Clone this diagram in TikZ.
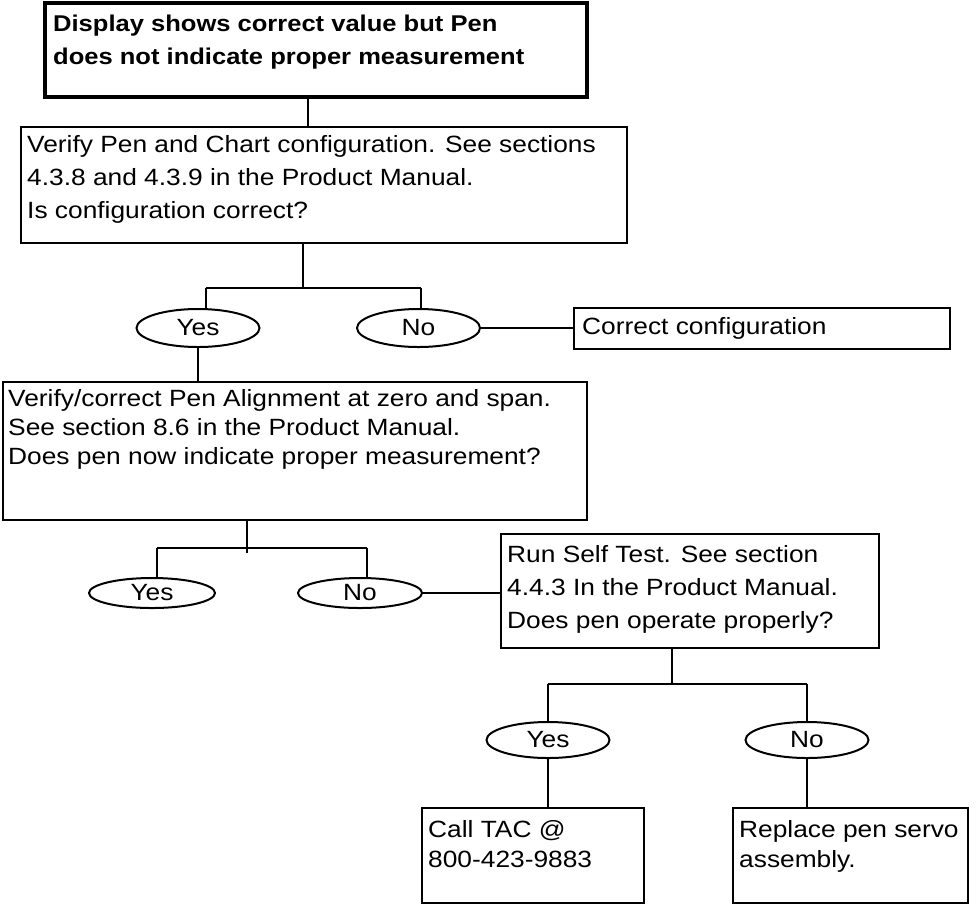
\documentclass[tikz,border=0pt]{standalone}
\usepackage{fontspec}
\setmainfont{Liberation Sans}[FakeStretch=1.12]
\usetikzlibrary{shapes.geometric}
\begin{document}
\begin{tikzpicture}[x=1pt,y=-1pt,
  box/.style={draw,line width=2.2pt,rectangle,inner sep=0pt},
  titlebox/.style={draw,line width=4.5pt,rectangle,inner sep=0pt},
  txt/.style={inner sep=0pt,anchor=north west,align=left,font=\fontsize{23.5}{33}\selectfont},
  choice/.style={draw,line width=2pt,ellipse,inner sep=0pt,font=\fontsize{23.5}{28}\selectfont},
  link/.style={line width=2pt}]
\useasboundingbox (0,0) rectangle (976,906);

% boxes
\node[titlebox,minimum width=542pt,minimum height=94pt] (b1) at (316,50) {};
\node[txt,font=\bfseries\fontsize{22.8}{33}\selectfont] (t1) at (53,15)
  {Display shows correct value but Pen\\does not indicate proper measurement};

\node[box,minimum width=606pt,minimum height=116pt] (b2) at (324,185) {};
\node[txt] (t2) at (27,135)
  {Verify Pen and Chart configuration. See sections\\4.3.8 and 4.3.9 in the Product Manual.\\Is configuration correct?};

\node[choice,minimum width=123pt,minimum height=38pt] (yes1) at (198,328) {Yes};
\node[choice,minimum width=123pt,minimum height=38pt] (no1) at (418.5,328) {No};

\node[box,minimum width=376pt,minimum height=41pt] (fix) at (762,328.5) {};
\node[txt] (tfix) at (582,317) {Correct configuration};

\node[box,minimum width=584pt,minimum height=138pt] (b3) at (295,451) {};
\node[txt,font=\fontsize{23.5}{29}\selectfont] (t3) at (8,389)
  {Verify/correct Pen Alignment at zero and span.\\See section 8.6 in the Product Manual.\\Does pen now indicate proper measurement?};

\node[choice,minimum width=126pt,minimum height=30pt] (yes2) at (152,593) {Yes};
\node[choice,minimum width=124pt,minimum height=30pt] (no2) at (360,593) {No};

\node[box,minimum width=378pt,minimum height=114pt] (run) at (690,591) {};
\node[txt] (trun) at (507,545)
  {Run Self Test. See section\\4.4.3 In the Product Manual.\\Does pen operate properly?};

\node[choice,minimum width=123pt,minimum height=36pt] (yes3) at (548,740) {Yes};
\node[choice,minimum width=123pt,minimum height=36pt] (no3) at (807,740) {No};

\node[box,minimum width=222pt,minimum height=95pt] (call) at (533,855.5) {};
\node[txt,font=\fontsize{23.5}{30}\selectfont] (tcall) at (428,820) {Call TAC @\\800-423-9883};

\node[box,minimum width=235pt,minimum height=95pt] (repl) at (850.5,855.5) {};
\node[txt,font=\fontsize{23.5}{30}\selectfont] (trep) at (739,820) {Replace pen servo\\assembly.};

% junction coordinates
\coordinate (c1) at (308,0);
\coordinate (j1) at (303,288);
\coordinate (bl1) at (206,288);
\coordinate (br1) at (421,288);
\coordinate (j2) at (247,548);
\coordinate (j2e) at (247,553);
\coordinate (bl2) at (157,548);
\coordinate (br2) at (367,548);
\coordinate (j3) at (672,684);
\coordinate (bl3) at (548,684);
\coordinate (br3) at (807,684);

% connectors
\draw[link] (b1.south -| c1) -- (b2.north -| c1);
\draw[link] (b2.south -| j1) -- (j1);
\draw[link] (bl1) -- (br1);
\draw[link] (bl1) -- (yes1.north -| bl1);
\draw[link] (br1) -- (no1.north -| br1);
\draw[link] (no1.east) -- (no1.east -| fix.west);
\draw[link] (yes1.south) -- (b3.north -| yes1.south);

\draw[link] (b3.south -| j2) -- (j2e);
\draw[link] (bl2) -- (br2);
\draw[link] (bl2) -- (yes2.north -| bl2);
\draw[link] (br2) -- (no2.north -| br2);
\draw[link] (no2.east) -- (no2.east -| run.west);

\draw[link] (run.south -| j3) -- (j3);
\draw[link] (bl3) -- (br3);
\draw[link] (bl3) -- (yes3.north);
\draw[link] (br3) -- (no3.north);
\draw[link] (yes3.south) -- (call.north -| yes3.south);
\draw[link] (no3.south) -- (repl.north -| no3.south);
\end{tikzpicture}
\end{document}
